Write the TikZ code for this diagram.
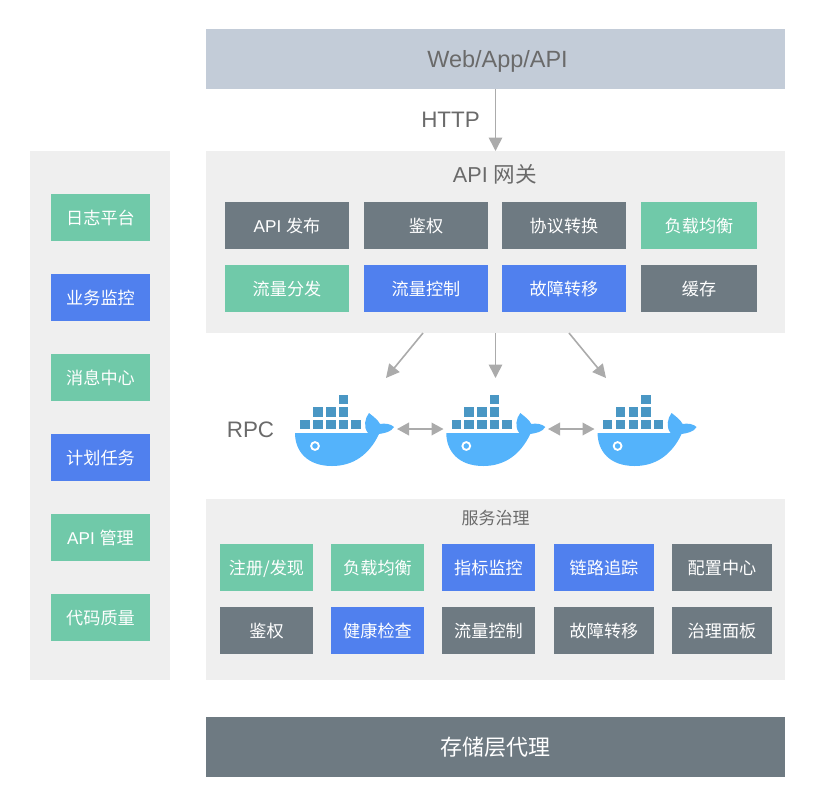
\documentclass[tikz,border=0pt]{standalone}
\usepackage{fontspec}
\setmainfont{Liberation Sans}
\newfontfamily\cjk{Noto Sans CJK SC}
\newcommand{\zh}[1]{{\cjk #1}}
\usetikzlibrary{arrows.meta,calc}
\definecolor{cgrey}{HTML}{6E7A82}
\definecolor{cgreen}{HTML}{70C9A9}
\definecolor{cblue}{HTML}{5080EE}
\definecolor{cpanel}{HTML}{EFEFEF}
\definecolor{cweb}{HTML}{C3CCD8}
\definecolor{cline}{HTML}{ABABAB}
\definecolor{ctext}{HTML}{6A6A6A}
\definecolor{cwhale}{HTML}{54B3FB}
\definecolor{cbox}{HTML}{4A97C4}
\tikzset{
  x=.75pt,y=-.75pt,
  band/.style={inner sep=0pt,outer sep=0pt,minimum width=434.25pt,minimum height=45pt},
  panel/.style={inner sep=0pt,outer sep=0pt,fill=cpanel},
  tile/.style={inner sep=0pt,outer sep=0pt,text=white,font=\fontsize{12.85pt}{15pt}\selectfont,minimum height=35.25pt,text height=10.4pt,text depth=0pt},
  lw/.style={tile,minimum width=74.25pt},
  gw/.style={tile,minimum width=93pt},
  gwn/.style={tile,minimum width=87pt},
  sv/.style={tile,minimum width=69.75pt},
  svw/.style={tile,minimum width=75pt},
  g/.style={fill=cgrey},
  gr/.style={fill=cgreen},
  bl/.style={fill=cblue},
  title/.style={inner sep=0pt,text=ctext},
  link/.style={draw=cline,line width=1.2pt,-{Triangle[length=10pt,width=10pt]}},
  linkboth/.style={draw=cline,line width=1.2pt,{Triangle[length=9pt,width=9.5pt]}-{Triangle[length=9pt,width=9.5pt]}},
  pics/whale/.style={code={
    \fill[cwhale] (0,0) -- (73,0) .. controls (68,-6) and (70,-15) .. (74,-20)
      .. controls (79,-16) and (83,-13) .. (85,-9)
      .. controls (90,-10) and (96,-9) .. (99,-6)
      .. controls (96,-1) and (90,0) .. (84,1)
      .. controls (74,22) and (58,33) .. (37,33)
      .. controls (12,33) and (0,18) .. (0,0) -- cycle;
    \draw[white,line width=1.4pt] (20,13) circle (3.9);
    \foreach \px in {5.3,18,31,43.5,56} \fill[cbox] (\px,-13) rectangle ++(9.5,9.4);
    \foreach \px in {18,31,43.5} \fill[cbox] (\px,-25.7) rectangle ++(9.5,9.4);
    \fill[cbox] (43.5,-38) rectangle ++(9.5,9.4);
  }}
}
\begin{document}
\begin{tikzpicture}
\useasboundingbox (0,0) rectangle (825,790);
% panels
\node[panel,minimum width=105pt,minimum height=396.75pt] (left) at (100,415.5) {};
\node[panel,band,minimum height=136.5pt] (gate) at (495.5,242) {};
\node[panel,band,minimum height=135.75pt] (gov) at (495.5,589.5) {};
\node[band,fill=cweb,text=ctext,font=\fontsize{17.6pt}{20pt}\selectfont,text height=13pt,text depth=0pt] (web) at (495.5,59) {\hspace{3pt}Web/App/API};
\node[band,fill=cgrey,text=white,font=\fontsize{16.5pt}{20pt}\selectfont,text height=13.4pt,text depth=0pt] (store) at (495.5,746.5) {\zh{存储层代理}};
% titles
\node[title,font=\fontsize{16.8pt}{20pt}\selectfont] (http) at (450.5,120) {HTTP};
\node[title,font=\fontsize{16.2pt}{18pt}\selectfont] (gatet) at (495,174) {API \zh{网关}};
\node[title,font=\fontsize{16.8pt}{20pt}\selectfont] (rpc) at (250.5,430) {RPC};
\node[title,font=\fontsize{12.75pt}{15pt}\selectfont] (govt) at (495.5,518) {\zh{服务治理}};
% left column
\node[lw,gr] (l1) at (100.5,217.5) {\zh{日志平台}};
\node[lw,bl] (l2) at (100.5,297.5) {\zh{业务监控}};
\node[lw,gr] (l3) at (100.5,377.5) {\zh{消息中心}};
\node[lw,bl] (l4) at (100.5,457.5) {\zh{计划任务}};
\node[lw,gr] (l5) at (100.5,537.5) {API \zh{管理}};
\node[lw,gr] (l6) at (100.5,617.5) {\zh{代码质量}};
% gateway
\node[gw,g] (g1) at (287,225.5) {API \zh{发布}};
\node[gw,g] (g2) at (426,225.5) {\zh{鉴权}};
\node[gw,g] (g3) at (564,225.5) {\zh{协议转换}};
\node[gwn,gr] (g4) at (699,225.5) {\zh{负载均衡}};
\node[gw,gr] (g5) at (287,288.5) {\zh{流量分发}};
\node[gw,bl] (g6) at (426,288.5) {\zh{流量控制}};
\node[gw,bl] (g7) at (564,288.5) {\zh{故障转移}};
\node[gwn,g] (g8) at (699,288.5) {\zh{缓存}};
% governance
\node[sv,gr] (s1) at (266.5,567.5) {\zh{注册/发现}};
\node[sv,gr] (s2) at (377.5,567.5) {\zh{负载均衡}};
\node[sv,bl] (s3) at (488.5,567.5) {\zh{指标监控}};
\node[svw,bl] (s4) at (604,567.5) {\zh{链路追踪}};
\node[svw,g] (s5) at (722,567.5) {\zh{配置中心}};
\node[sv,g] (s6) at (266.5,630.5) {\zh{鉴权}};
\node[sv,bl] (s7) at (377.5,630.5) {\zh{健康检查}};
\node[sv,g] (s8) at (488.5,630.5) {\zh{流量控制}};
\node[svw,g] (s9) at (604,630.5) {\zh{故障转移}};
\node[svw,g] (s10) at (722,630.5) {\zh{治理面板}};
% whales
\pic at (295,433) {whale};
\pic at (446.3,433) {whale};
\pic at (597.6,433) {whale};
\coordinate (a1) at (386,378);
\coordinate (a2) at (495.5,378);
\coordinate (a3) at (606,378);
\coordinate (w1r) at (397,429);
\coordinate (w2l) at (443.5,429);
\coordinate (w2r) at (548,429);
\coordinate (w3l) at (594.5,429);
% connectors
\draw[link] (web.south) -- (gate.north);
\draw[link] ($(gate.south)+(-72.5,0)$) -- (a1);
\draw[link] (gate.south) -- (a2);
\draw[link] ($(gate.south)+(73.5,0)$) -- (a3);
\draw[linkboth] (w1r) -- (w2l);
\draw[linkboth] (w2r) -- (w3l);
\end{tikzpicture}
\end{document}
